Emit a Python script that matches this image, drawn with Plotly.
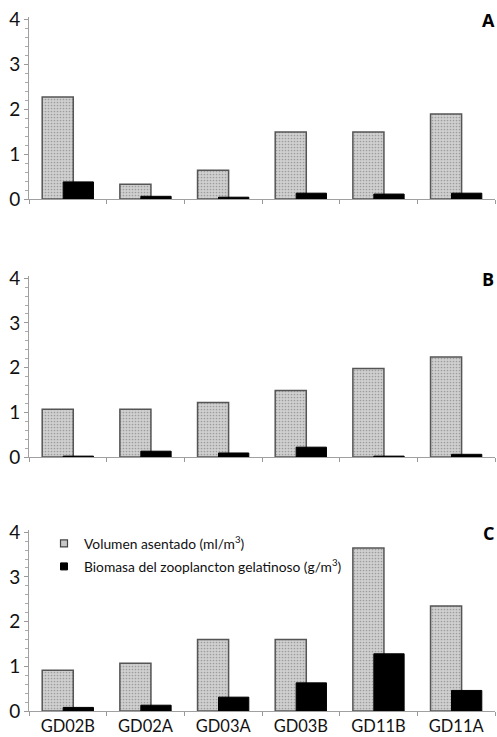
import plotly.graph_objects as go
from plotly.subplots import make_subplots

categories = ["GD02B", "GD02A", "GD03A", "GD03B", "GD11B", "GD11A"]
panel_labels = ["A", "B", "C"]
y_ticks = [0, 1, 2, 3, 4]

volumen_A = [2.27, 0.33, 0.64, 1.49, 1.49, 1.89]
biomasa_A = [0.38, 0.06, 0.04, 0.13, 0.11, 0.13]
volumen_B = [1.07, 1.07, 1.22, 1.49, 1.98, 2.24]
biomasa_B = [0.02, 0.13, 0.09, 0.22, 0.02, 0.06]
volumen_C = [0.91, 1.07, 1.60, 1.60, 3.65, 2.35]
biomasa_C = [0.08, 0.13, 0.31, 0.63, 1.28, 0.46]

name_vol = "Volumen asentado (ml/m<sup>3</sup>)"
name_bio = "Biomasa del zooplancton gelatinoso (g/m<sup>3</sup>)"

W, H = 497, 737
L, R = 29, 2
rows_px = [(199, 17), (457, 276), (711, 530)]

fig = make_subplots(rows=3, cols=1)

data = [(volumen_A, biomasa_A), (volumen_B, biomasa_B), (volumen_C, biomasa_C)]
font_family = "Lato, 'Open Sans', sans-serif"

gray_marker = dict(color="#cbcbcb",
                   line=dict(color="#555555", width=1.5),
                   pattern=dict(shape=".", fgcolor="#9d9d9d", bgcolor="#d0d0d0",
                                size=3, solidity=0.25))

for i, (vol, bio) in enumerate(data):
    r = i + 1
    fig.add_trace(go.Bar(
        x=categories, y=vol, name=name_vol, showlegend=False,
        width=0.40, offset=-0.33, marker=gray_marker,
    ), row=r, col=1)
    fig.add_trace(go.Bar(
        x=categories, y=bio, name=name_bio, showlegend=False,
        width=0.39, offset=-0.06,
        marker=dict(color="#000000", line=dict(color="#000000", width=1)),
    ), row=r, col=1)

# legend-only entries with small square swatches
fig.add_trace(go.Scatter(
    x=[None], y=[None], mode="markers", name=name_vol, legendgroup="vol",
    marker=dict(symbol="square", size=7, color="#c8c8c8", line=dict(color="#444444", width=1.2)),
), row=3, col=1)
fig.add_trace(go.Scatter(
    x=[None], y=[None], mode="markers", name=name_bio, legendgroup="bio",
    marker=dict(symbol="square", size=7, color="#000000", line=dict(color="#000000", width=1)),
), row=3, col=1)

for i, (base, top) in enumerate(rows_px):
    r = i + 1
    dom = [(H - base) / H, (H - top) / H]
    ax_suffix = "" if r == 1 else str(r)
    fig.layout["yaxis" + ax_suffix].update(
        domain=dom, range=[0, 4.05], tickvals=y_ticks,
        ticks="outside", ticklen=4, tickcolor="#999999",
        showline=True, linecolor="#a0a0a0", linewidth=1,
        showgrid=False, zeroline=False,
        tickfont=dict(size=19, color="#111111", family=font_family),
        minor=dict(dtick=0.2, tick0=0, ticks="outside", ticklen=3, tickcolor="#aaaaaa", showgrid=False),
        automargin=False,
    )
    fig.layout["xaxis" + ax_suffix].update(
        domain=[0, 1], range=[-0.5, 5.5], type="category",
        showline=True, linecolor="#a0a0a0", linewidth=1,
        ticks="outside", tickson="boundaries", ticklen=4, tickcolor="#999999",
        showgrid=False, zeroline=False,
        showticklabels=(r == 3),
        tickfont=dict(size=16.5, color="#111111", family=font_family),
        automargin=False,
    )
    fig.add_annotation(
        text="<b>%s</b>" % panel_labels[i], xref="paper", yref="paper",
        x=(488 - L) / (W - L - R), y=(H - (top + 3)) / H,
        xanchor="center", yanchor="middle", showarrow=False,
        font=dict(size=18, color="#000000", family="'Open Sans', sans-serif"),
    )

fig.update_layout(
    width=W, height=H,
    margin=dict(l=L, r=R, t=0, b=0),
    paper_bgcolor="white", plot_bgcolor="white",
    barmode="overlay",
    template="none",
    font=dict(family=font_family, color="#111111"),
    legend=dict(
        x=(44 - L) / (W - L - R), y=(H - 528) / H, xanchor="left", yanchor="top",
        bgcolor="rgba(0,0,0,0)", font=dict(size=13.8, family=font_family, color="#111111"),
        itemwidth=30, tracegroupgap=2,
    ),
)

fig.write_html("out.html")
